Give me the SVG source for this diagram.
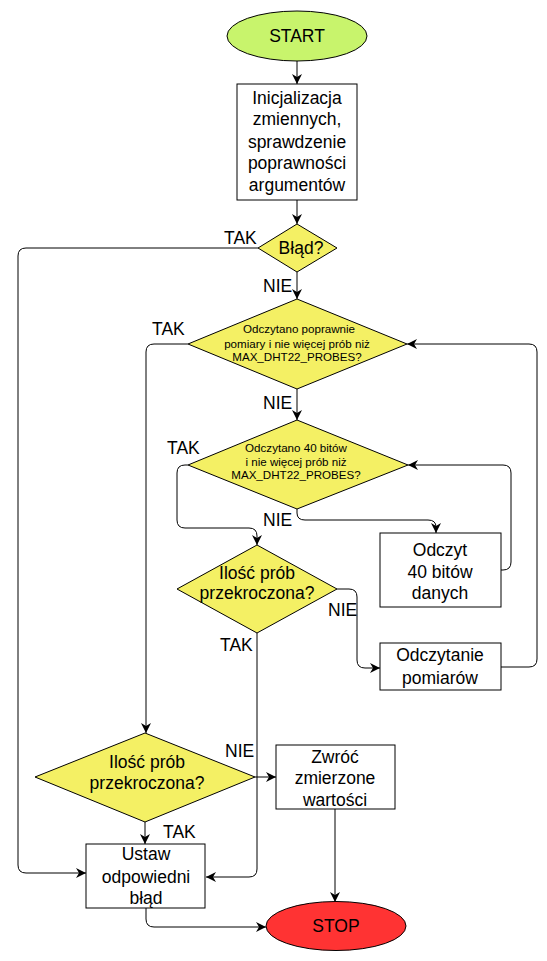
<svg xmlns="http://www.w3.org/2000/svg" width="547" height="961" viewBox="0 0 547 961">
<defs>
<marker id="arr" markerWidth="10" markerHeight="10" refX="10" refY="5" orient="auto" markerUnits="userSpaceOnUse">
<path d="M0,0 L10,5 L0,10 L3,5 z" fill="#000"/>
</marker>
<style>
.box{fill:#fff;stroke:#000;stroke-width:1}
.dia{fill:#f4f064;stroke:#000;stroke-width:1}
.t{font-family:"Liberation Sans",Arial,sans-serif;font-size:17.5px;fill:#000;text-anchor:middle}
.s{font-family:"Liberation Sans",Arial,sans-serif;font-size:11.6px;fill:#000;text-anchor:middle}
.l{font-family:"Liberation Sans",Arial,sans-serif;font-size:17.5px;fill:#000}
.c{fill:none;stroke:#000;stroke-width:1;marker-end:url(#arr)}
</style>
</defs>
<rect width="547" height="961" fill="#fff"/>
<g id="connectors">
<path class="c" d="M297,61 L297,84"/>
<path class="c" d="M297,200 L297,224"/>
<path class="c" d="M258,248 L26,248 Q18,248 18,256 L18,865 Q18,873 26,873 L86,873"/>
<path class="c" d="M297,272 L297,299"/>
<path class="c" d="M188,344 L154,344 Q146,344 146,352 L146,733"/>
<path class="c" d="M297,389 L297,420"/>
<path class="c" d="M188,465 L185,465 Q177,465 177,473 L177,520 Q177,528 185,528 L249,528 Q257,528 257,536 L257,545"/>
<path class="c" d="M297,509 L297,513 Q297,520 305,520 L428,520 Q436,520 436,527 L436,533"/>
<path class="c" d="M501,570 L503,570 Q511,570 511,562 L511,473 Q511,465 503,465 L408,465"/>
<path class="c" d="M337,589 L349,589 Q357,589 357,597 L357,660 Q357,668 365,668 L380,668"/>
<path class="c" d="M501,667 L529,667 Q537,667 537,659 L537,352 Q537,344 529,344 L407,344"/>
<path class="c" d="M257,633 L257,869 Q257,877 249,877 L206,877"/>
<path class="c" d="M255,777 L276,777"/>
<path class="c" d="M145,822 L145,844"/>
<path class="c" d="M335,809 L335,902"/>
<path class="c" d="M146,908 L146,919 Q146,927 154,927 L266,927"/>
</g>
<g id="labels">
<text class="l" x="224" y="244">TAK</text>
<text class="l" x="263" y="292">NIE</text>
<text class="l" x="152" y="335">TAK</text>
<text class="l" x="263" y="409">NIE</text>
<text class="l" x="167" y="454">TAK</text>
<text class="l" x="263" y="526">NIE</text>
<text class="l" x="328" y="616">NIE</text>
<text class="l" x="220" y="651">TAK</text>
<text class="l" x="225" y="757">NIE</text>
<text class="l" x="163" y="838">TAK</text>
</g>
<g id="start">
<ellipse cx="297" cy="36" rx="70" ry="25" fill="#c8f46c" stroke="#000"/>
<text class="t" x="297" y="42">START</text>
</g>
<g id="init">
<rect class="box" x="237" y="84" width="120" height="116"/>
<text class="t" x="297" y="104">Inicjalizacja</text>
<text class="t" x="297" y="125">zmiennych,</text>
<text class="t" x="297" y="148">sprawdzenie</text>
<text class="t" x="297" y="169">poprawności</text>
<text class="t" x="297" y="191">argumentów</text>
</g>
<g id="blad">
<polygon class="dia" points="297,224 337,248 297,272 258,248"/>
<text class="t" x="301" y="254">Błąd?</text>
</g>
<g id="d1">
<polygon class="dia" points="297,299 407,344 297,389 188,344"/>
<text class="s" x="299" y="333">Odczytano poprawnie</text>
<text class="s" x="297" y="348">pomiary i nie więcej prób niż</text>
<text class="s" x="297" y="361">MAX_DHT22_PROBES?</text>
</g>
<g id="d2">
<polygon class="dia" points="297,420 408,465 297,509 188,465"/>
<text class="s" x="296" y="452">Odczytano 40 bitów</text>
<text class="s" x="296" y="466">i nie więcej prób niż</text>
<text class="s" x="296" y="479">MAX_DHT22_PROBES?</text>
</g>
<g id="odczyt">
<rect class="box" x="380" y="533" width="121" height="74"/>
<text class="t" x="440" y="556">Odczyt</text>
<text class="t" x="440" y="578">40 bitów</text>
<text class="t" x="440" y="599">danych</text>
</g>
<g id="ilosc1">
<polygon class="dia" points="257,545 337,589 257,633 177,589"/>
<text class="t" x="257" y="579">Ilość prób</text>
<text class="t" x="257" y="599">przekroczona?</text>
</g>
<g id="odczytanie">
<rect class="box" x="380" y="643" width="121" height="47"/>
<text class="t" x="440" y="661">Odczytanie</text>
<text class="t" x="440" y="684">pomiarów</text>
</g>
<g id="ilosc2">
<polygon class="dia" points="145,733 255,777 145,822 35,777"/>
<text class="t" x="147" y="768">Ilość prób</text>
<text class="t" x="147" y="789">przekroczona?</text>
</g>
<g id="zwroc">
<rect class="box" x="276" y="745" width="119" height="64"/>
<text class="t" x="335" y="763">Zwróć</text>
<text class="t" x="335" y="784">zmierzone</text>
<text class="t" x="335" y="806">wartości</text>
</g>
<g id="ustaw">
<rect class="box" x="86" y="844" width="119" height="64"/>
<text class="t" x="146" y="860">Ustaw</text>
<text class="t" x="146" y="883">odpowiedni</text>
<text class="t" x="146" y="904">błąd</text>
</g>
<g id="stop">
<ellipse cx="336" cy="926" rx="70" ry="24.5" fill="#ff3333" stroke="#000"/>
<text class="t" x="336" y="932">STOP</text>
</g>
</svg>
